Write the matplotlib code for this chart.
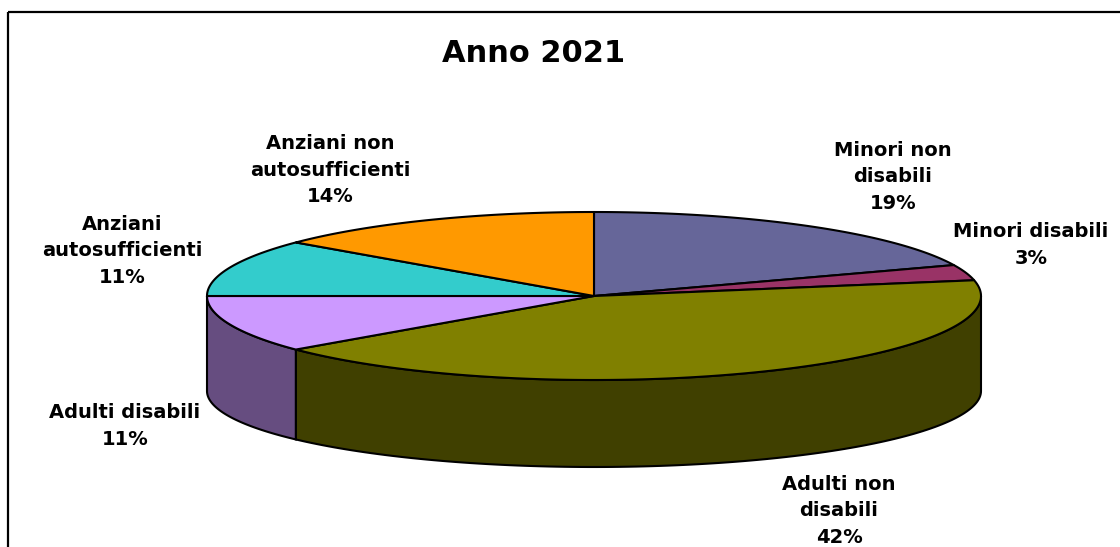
import numpy as np
import matplotlib.pyplot as plt
from matplotlib.patches import Polygon, Rectangle

# data
categories = ["Minori non\ndisabili", "Minori disabili", "Adulti non\ndisabili",
              "Adulti disabili", "Anziani\nautosufficienti", "Anziani non\nautosufficienti"]
shares = [19, 3, 42, 11, 11, 14]
colors = ["#666699", "#993366", "#808000", "#CC99FF", "#33CCCC", "#FF9900"]

# layout (pixel coords)
cx, cy = 594, 296          # centre of the top face
rx, ry = 387, 84           # top ellipse radii
bot_dy, bot_ry = 95, 76    # bottom ellipse offset / radius (slight perspective)
label_pos = [(893, 177), (1031, 245), (839, 511), (125, 426), (122, 251), (330, 170)]


def top_pt(t):
    return cx + rx * np.cos(t), cy - ry * np.sin(t)


def bot_pt(t):
    return cx + rx * np.cos(t), cy + bot_dy - bot_ry * np.sin(t)


fig = plt.figure(figsize=(11.2, 5.47), dpi=100)
ax = fig.add_axes([0, 0, 1, 1])
ax.set_xlim(0, 1120)
ax.set_ylim(547, 0)
ax.axis("off")

ax.add_patch(Rectangle((8, 12), 1140, 560, fill=False, lw=1.6, ec="black"))

fracs = np.array(shares) / np.sum(shares)
ends = 90 - 360 * np.cumsum(fracs)
starts = np.concatenate([[90], ends[:-1]])


def darker(c, f=0.5):
    r, g, b = [int(c[i:i + 2], 16) for i in (1, 3, 5)]
    return (r * f / 255, g * f / 255, b * f / 255)


# side walls (only the front half, angles -180..0)
for a0, a1, col in zip(starts, ends, colors):
    hi = min(a0, 0)
    lo = max(a1, -180)
    if hi <= lo:
        continue
    t = np.radians(np.linspace(hi, lo, 120))
    xt, yt = top_pt(t)
    xb, yb = bot_pt(t[::-1])
    pts = np.column_stack([np.concatenate([xt, xb]), np.concatenate([yt, yb])])
    ax.add_patch(Polygon(pts, closed=True, fc=darker(col), ec="black", lw=1.5))

# top face wedges
for a0, a1, col in zip(starts, ends, colors):
    t = np.radians(np.linspace(a0, a1, 200))
    xt, yt = top_pt(t)
    pts = np.column_stack([np.concatenate([[cx], xt]), np.concatenate([[cy], yt])])
    ax.add_patch(Polygon(pts, closed=True, fc=col, ec="black", lw=1.5, joinstyle="round"))

# labels
for name, s, (lx, ly) in zip(categories, shares, label_pos):
    ax.text(lx, ly, f"{name}\n{s}%", ha="center", va="center", fontsize=14,
            fontweight="bold", family="DejaVu Sans", linespacing=1.5)

ax.text(534, 53, "Anno 2021", ha="center", va="center", fontsize=22,
        fontweight="bold", family="DejaVu Sans")

fig.savefig("out.png", dpi=100)
